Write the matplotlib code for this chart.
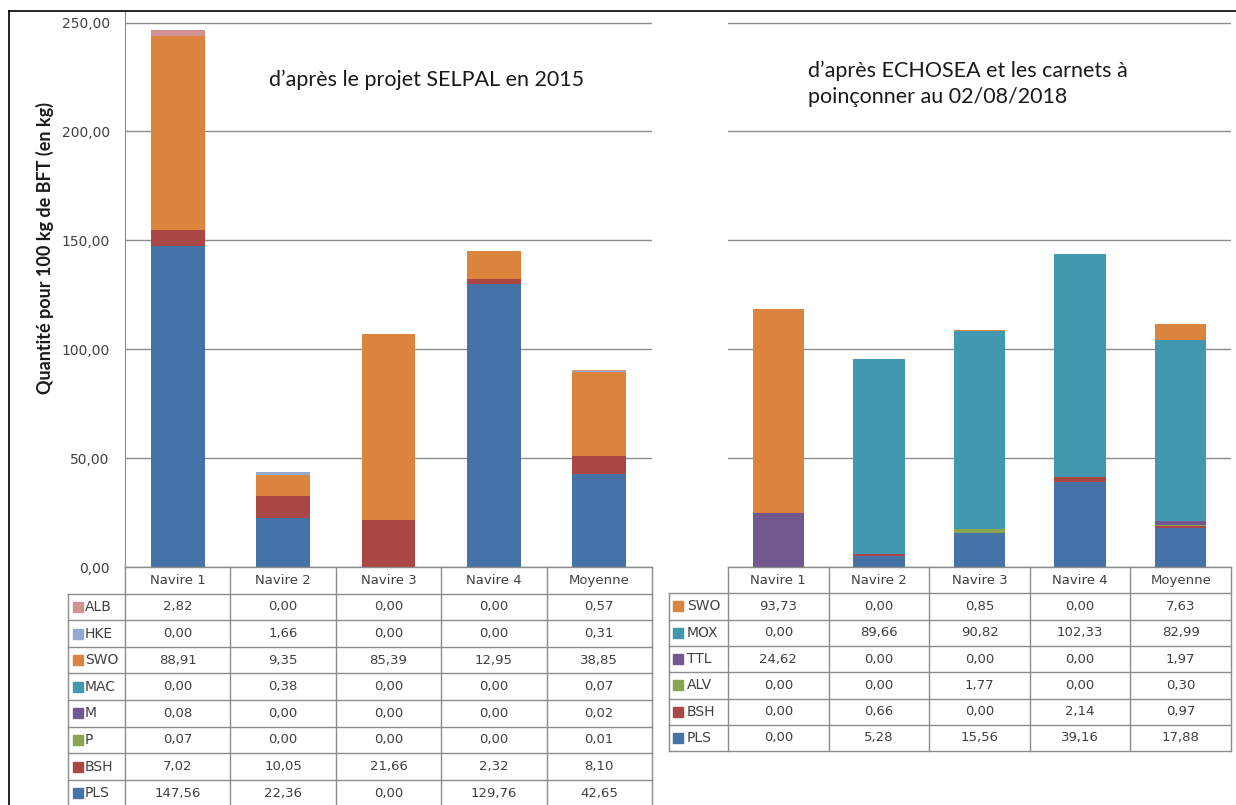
import matplotlib
matplotlib.use("Agg")
import matplotlib.pyplot as plt
from matplotlib.lines import Line2D
import numpy as np

# Data
ships = ["Navire 1", "Navire 2", "Navire 3", "Navire 4", "Moyenne"]

# SELPAL 2015, stack order bottom -> top
species_2015 = ["PLS", "BSH", "P", "M", "MAC", "SWO", "HKE", "ALB"]
pls_2015 = [147.56, 22.36, 0.00, 129.76, 42.65]
bsh_2015 = [7.02, 10.05, 21.66, 2.32, 8.10]
p_2015 = [0.07, 0.00, 0.00, 0.00, 0.01]
m_2015 = [0.08, 0.00, 0.00, 0.00, 0.02]
mac_2015 = [0.00, 0.38, 0.00, 0.00, 0.07]
swo_2015 = [88.91, 9.35, 85.39, 12.95, 38.85]
hke_2015 = [0.00, 1.66, 0.00, 0.00, 0.31]
alb_2015 = [2.82, 0.00, 0.00, 0.00, 0.57]
values_2015 = [pls_2015, bsh_2015, p_2015, m_2015, mac_2015, swo_2015, hke_2015, alb_2015]

# ECHOSEA 2018, stack order bottom -> top
species_2018 = ["PLS", "BSH", "ALV", "TTL", "MOX", "SWO"]
pls_2018 = [0.00, 5.28, 15.56, 39.16, 17.88]
bsh_2018 = [0.00, 0.66, 0.00, 2.14, 0.97]
alv_2018 = [0.00, 0.00, 1.77, 0.00, 0.30]
ttl_2018 = [24.62, 0.00, 0.00, 0.00, 1.97]
mox_2018 = [0.00, 89.66, 90.82, 102.33, 82.99]
swo_2018 = [93.73, 0.00, 0.85, 0.00, 7.63]
values_2018 = [pls_2018, bsh_2018, alv_2018, ttl_2018, mox_2018, swo_2018]

yticks = [0, 50, 100, 150, 200, 250]

colors = {
    "PLS": "#4572a7", "BSH": "#aa4643", "P": "#89a54e", "ALV": "#89a54e",
    "M": "#71588f", "TTL": "#71588f", "MAC": "#4198af", "MOX": "#4198af",
    "SWO": "#db843d", "HKE": "#93a9cf", "ALB": "#d19392",
}

W, H = 1236, 805
GRID = "#8c8c8c"
TXT = "#404040"


def box(l, t, r, b):
    return [l / W, 1 - b / H, (r - l) / W, (b - t) / H]


def fmt(v):
    return f"{v:.2f}".replace(".", ",")


def draw_bars(ax, species, values, show_axis):
    x = np.arange(len(ships))
    bottom = np.zeros(len(ships))
    for sp, vals in zip(species, values):
        vals = np.array(vals)
        ax.bar(x, vals, 0.51, bottom=bottom, color=colors[sp], linewidth=0)
        bottom += vals
    ax.set_xlim(-0.5, 4.5)
    ax.set_ylim(0, 255.3)
    ax.set_yticks(yticks)
    ax.set_xticks([])
    ax.yaxis.grid(True, color=GRID, lw=1)
    ax.set_axisbelow(True)
    for s in ["top", "right", "bottom", "left"]:
        ax.spines[s].set_visible(False)
    if show_axis:
        ax.spines["left"].set_visible(True)
        ax.spines["left"].set_color(GRID)
        ax.set_yticklabels([fmt(t) for t in yticks])
        ax.tick_params(axis="y", length=0, pad=11, labelsize=10, labelcolor=TXT)
    else:
        ax.set_yticklabels([])
        ax.tick_params(axis="y", length=0)


def draw_table(tax, species, values, label_left, sq_off, txt_off):
    rows = list(zip(species, values))[::-1]
    n = len(rows)
    tax.set_xlim(-0.5, 4.5)
    tax.set_ylim(n + 1, 0)
    tax.axis("off")
    kw = dict(color=GRID, lw=1, clip_on=False)
    tax.plot([-0.5, 4.5], [0, 0], **kw)
    for i in range(6):
        tax.plot([i - 0.5, i - 0.5], [0, n + 1], **kw)
    for r in range(1, n + 2):
        tax.plot([label_left, 4.5], [r, r], **kw)
    tax.plot([label_left, label_left], [1, n + 1], **kw)
    for i, name in enumerate(ships):
        tax.text(i, 0.5, name, ha="center", va="center", fontsize=9.5, color=TXT)
    for r, (sp, vals) in enumerate(rows, start=1):
        tax.plot([label_left + sq_off], [r + 0.5], marker="s", ms=7,
                 color=colors[sp], clip_on=False)
        tax.text(label_left + txt_off, r + 0.5, sp, ha="left", va="center",
                 fontsize=10, color=TXT)
        for i, v in enumerate(vals):
            tax.text(i, r + 0.5, fmt(v), ha="center", va="center",
                     fontsize=9.5, color=TXT)


plt.rcParams["font.family"] = ["DejaVu Sans"]
fig = plt.figure(figsize=(12.36, 8.05), dpi=100)

# left panel (2015)
ax1 = fig.add_axes(box(125, 11, 652, 567))
draw_bars(ax1, species_2015, values_2015, True)
tax1 = fig.add_axes(box(125, 567, 652, 567 + 9 * 26.6))
draw_table(tax1, species_2015, values_2015, -1.044, 0.098, 0.165)

# right panel (2018)
ax2 = fig.add_axes(box(728, 11, 1231, 567))
draw_bars(ax2, species_2018, values_2018, False)
tax2 = fig.add_axes(box(728, 567, 1231, 567 + 7 * 26.3))
draw_table(tax2, species_2018, values_2018, -1.087, 0.09, 0.18)

# titles and axis label
fig.text(427 / W, 1 - 80 / H, "d\u2019apr\u00e8s le projet SELPAL en 2015",
         ha="center", va="center", fontsize=15.5, family="Lato", color="#1a1a1a")
fig.text(808 / W, 1 - 84 / H,
         "d\u2019apr\u00e8s ECHOSEA et les carnets \u00e0\npoin\u00e7onner au 02/08/2018",
         ha="left", va="center", fontsize=15.5, family="Lato", color="#1a1a1a",
         linespacing=1.4)
fig.text(45 / W, 1 - 248 / H, "Quantit\u00e9 pour 100 kg de BFT (en kg)",
         rotation=90, ha="center", va="center", fontsize=13, fontweight="bold",
         family="Lato", color="#1a1a1a")

# outer frame (left and top edges)
fig.add_artist(Line2D([9 / W, 9 / W], [0, 1 - 11 / H], color="black", lw=1.2))
fig.add_artist(Line2D([9 / W, 1], [1 - 11 / H, 1 - 11 / H], color="black", lw=1.2))

fig.savefig("out.png", dpi=100)
